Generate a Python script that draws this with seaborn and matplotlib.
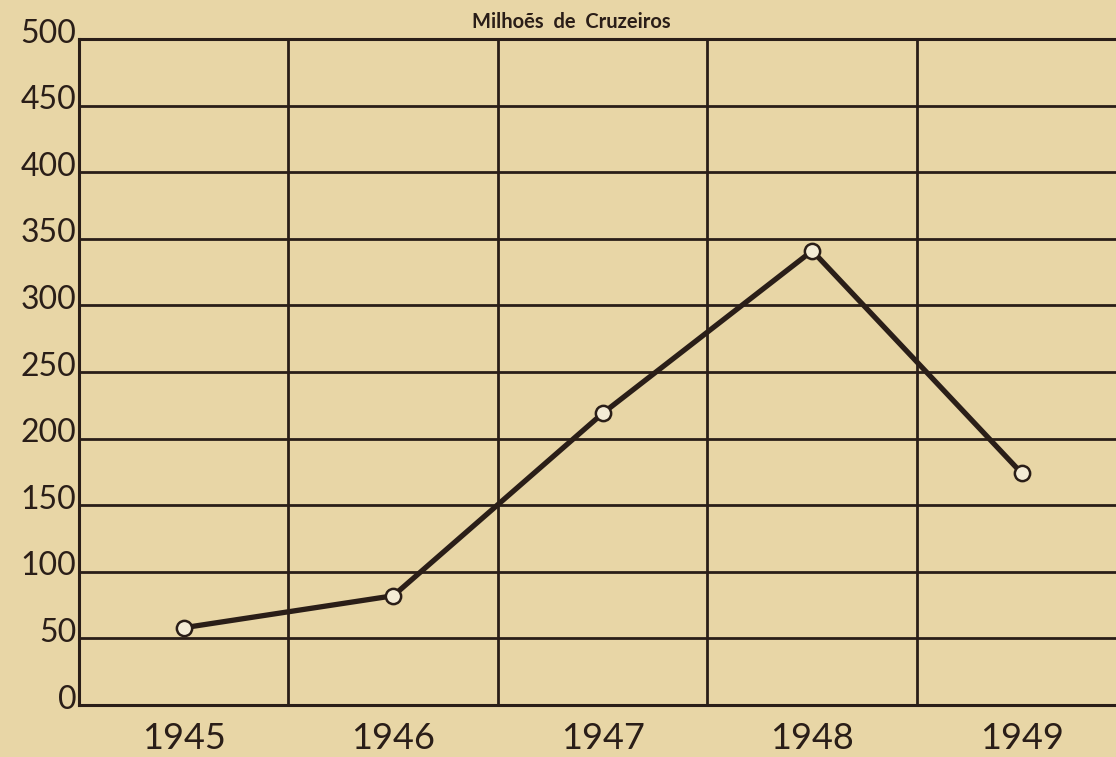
import numpy as np
import pandas as pd
import matplotlib
matplotlib.use('Agg')
import matplotlib.pyplot as plt
import matplotlib.transforms as mtransforms
import seaborn as sns

years = [1945, 1946, 1947, 1948, 1949]
values = [58, 82, 219, 341, 174]  # milhoes de cruzeiros
y_ticks = [0, 50, 100, 150, 200, 250, 300, 350, 400, 450, 500]

paper = '#E8D6A6'
ink = '#2A1E18'

sns.set_style('white')
plt.rcParams['font.family'] = ['Lato', 'DejaVu Sans']

df = pd.DataFrame({'ano': years, 'valor': values})

fig = plt.figure(figsize=(11.16, 7.57), dpi=100, facecolor=paper)
ax = fig.add_axes([79 / 1116, 1 - 705 / 757, 1 - 79 / 1116, (705 - 39) / 757])
ax.set_facecolor(paper)

# grid
for v in y_ticks[1:]:
    ax.axhline(v, color=ink, lw=2.0, zorder=1)
for x in [1945.5, 1946.5, 1947.5, 1948.5]:
    ax.axvline(x, color=ink, lw=2.0, zorder=1)

sns.lineplot(data=df, x='ano', y='valor', ax=ax, color=ink, lw=3.8,
             marker='o', markersize=11, markerfacecolor='#F4ECD6',
             markeredgecolor=ink, markeredgewidth=1.8, zorder=3)

ax.set_xlim(1944.5, 1949.45)
ax.set_ylim(0, 500)
ax.set_xticks(years)
ax.set_xticklabels([str(y) for y in years], fontsize=26, color=ink)
ax.set_yticks(y_ticks)
ax.set_yticklabels([str(v) for v in y_ticks], fontsize=23, color=ink)
ax.tick_params(axis='both', length=0)
ax.tick_params(axis='x', pad=12)
ax.tick_params(axis='y', pad=2)
offset = mtransforms.ScaledTranslation(0, 6 / 72, fig.dpi_scale_trans)
for lab in ax.get_yticklabels():
    lab.set_transform(lab.get_transform() + offset)

ax.set_xlabel('')
ax.set_ylabel('')
for side in ['left', 'bottom', 'top']:
    ax.spines[side].set_color(ink)
    ax.spines[side].set_linewidth(2.2)
ax.spines['right'].set_visible(False)

fig.text(571 / 1116, 1 - 22 / 757, 'Milhoẽs  de  Cruzeiros', ha='center', va='center',
         fontsize=14.5, fontweight='bold', color=ink)

fig.savefig('out.png', dpi=100, facecolor=paper)
